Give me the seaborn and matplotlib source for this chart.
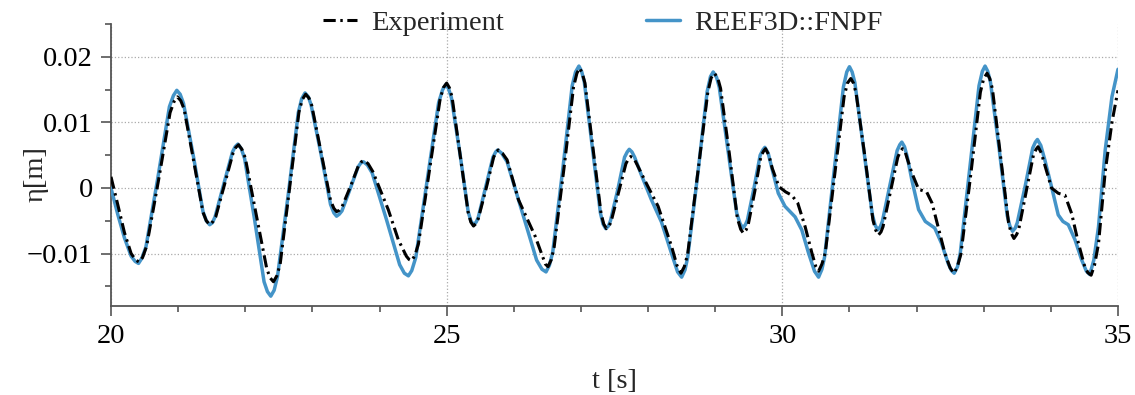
import numpy as np
import pandas as pd
import matplotlib

matplotlib.use('Agg')
import matplotlib.pyplot as plt
import seaborn as sns
from matplotlib.ticker import MultipleLocator, FuncFormatter

# 实验数据 (t [s], eta [m])
exp_points = [
    (20.00, 0.0017), (20.10, -0.0025), (20.20, -0.0068), (20.30, -0.0100), (20.37, -0.0110),
    (20.42, -0.0113), (20.47, -0.0106), (20.53, -0.0089), (20.71, 0.0013), (20.88, 0.0115),
    (20.94, 0.0132), (20.99, 0.0139), (21.04, 0.0133), (21.09, 0.0120), (21.23, 0.0042),
    (21.37, -0.0037), (21.42, -0.0050), (21.47, -0.0056), (21.52, -0.0051), (21.56, -0.0044),
    (21.69, 0.0005), (21.82, 0.0054), (21.86, 0.0062), (21.90, 0.0066), (21.95, 0.0059),
    (22.00, 0.0046), (22.16, -0.0039), (22.32, -0.0123), (22.37, -0.0137), (22.42, -0.0143),
    (22.47, -0.0134), (22.52, -0.0116), (22.66, 0.0000), (22.80, 0.0116), (22.85, 0.0135),
    (22.90, 0.0143), (22.95, 0.0137), (22.99, 0.0126), (23.13, 0.0054), (23.27, -0.0019),
    (23.32, -0.0031), (23.36, -0.0036), (23.40, -0.0034), (23.44, -0.0029), (23.57, 0.0003),
    (23.69, 0.0035), (23.73, 0.0040), (23.77, 0.0042), (23.83, 0.0037), (23.90, 0.0025),
    (24.13, -0.0033), (24.28, -0.0079), (24.40, -0.0104), (24.44, -0.0109), (24.48, -0.0111),
    (24.53, -0.0102), (24.58, -0.0085), (24.74, 0.0025), (24.90, 0.0134), (24.95, 0.0153),
    (25.00, 0.0160), (25.04, 0.0153), (25.08, 0.0139), (25.20, 0.0051), (25.32, -0.0037),
    (25.36, -0.0052), (25.40, -0.0058), (25.44, -0.0054), (25.47, -0.0047), (25.59, 0.0000),
    (25.70, 0.0047), (25.74, 0.0055), (25.77, 0.0058), (25.83, 0.0053), (25.90, 0.0043),
    (26.07, -0.0018), (26.32, -0.0074), (26.43, -0.0105), (26.47, -0.0116), (26.51, -0.0120),
    (26.56, -0.0109), (26.60, -0.0091), (26.75, 0.0032), (26.89, 0.0154), (26.94, 0.0175),
    (26.98, 0.0183), (27.02, 0.0175), (27.06, 0.0160), (27.18, 0.0061), (27.30, -0.0039),
    (27.34, -0.0055), (27.38, -0.0062), (27.42, -0.0058), (27.45, -0.0051), (27.56, -0.0007),
    (27.67, 0.0037), (27.71, 0.0045), (27.74, 0.0048), (27.79, 0.0045), (27.84, 0.0035),
    (27.95, 0.0012), (28.15, -0.0028), (28.35, -0.0089), (28.43, -0.0118), (28.49, -0.0130),
    (28.54, -0.0120), (28.59, -0.0101), (28.74, 0.0023), (28.89, 0.0146), (28.94, 0.0168),
    (28.99, 0.0175), (29.04, 0.0167), (29.08, 0.0152), (29.21, 0.0053), (29.33, -0.0046),
    (29.38, -0.0063), (29.42, -0.0069), (29.46, -0.0064), (29.49, -0.0057), (29.59, -0.0005),
    (29.68, 0.0048), (29.72, 0.0056), (29.75, 0.0060), (29.80, 0.0050), (29.85, 0.0030),
    (29.95, 0.0002), (30.05, -0.0006), (30.14, -0.0011), (30.23, -0.0023), (30.34, -0.0059),
    (30.44, -0.0099), (30.50, -0.0120), (30.54, -0.0127), (30.59, -0.0116), (30.64, -0.0099),
    (30.78, 0.0020), (30.92, 0.0139), (30.97, 0.0160), (31.02, 0.0167), (31.06, 0.0160),
    (31.10, 0.0144), (31.23, 0.0048), (31.35, -0.0049), (31.39, -0.0064), (31.43, -0.0072),
    (31.47, -0.0067), (31.50, -0.0059), (31.61, -0.0006), (31.72, 0.0047), (31.76, 0.0056),
    (31.79, 0.0060), (31.83, 0.0055), (31.86, 0.0045), (31.93, 0.0023), (32.03, -0.0002),
    (32.15, -0.0006), (32.23, -0.0023), (32.32, -0.0059), (32.42, -0.0099), (32.50, -0.0122),
    (32.56, -0.0130), (32.61, -0.0119), (32.66, -0.0101), (32.81, 0.0023), (32.95, 0.0146),
    (33.00, 0.0167), (33.05, 0.0175), (33.09, 0.0167), (33.13, 0.0151), (33.25, 0.0049),
    (33.37, -0.0053), (33.41, -0.0069), (33.45, -0.0077), (33.49, -0.0071), (33.52, -0.0064),
    (33.63, -0.0007), (33.74, 0.0050), (33.78, 0.0059), (33.81, 0.0063), (33.86, 0.0053),
    (33.91, 0.0035), (34.01, 0.0000), (34.11, -0.0008), (34.21, -0.0011), (34.31, -0.0039),
    (34.41, -0.0084), (34.50, -0.0118), (34.55, -0.0129), (34.60, -0.0133), (34.65, -0.0118),
    (34.71, -0.0085), (34.81, 0.0025), (34.91, 0.0100), (35.00, 0.0149),
]

# REEF3D::FNPF 数值结果
num_points = [
    (20.00, 0.0000), (20.10, -0.0040), (20.20, -0.0076), (20.30, -0.0104), (20.36, -0.0112),
    (20.41, -0.0115), (20.46, -0.0107), (20.52, -0.0090), (20.70, 0.0017), (20.87, 0.0124),
    (20.93, 0.0141), (20.98, 0.0149), (21.03, 0.0143), (21.08, 0.0129), (21.23, 0.0047),
    (21.37, -0.0036), (21.42, -0.0050), (21.47, -0.0056), (21.51, -0.0053), (21.55, -0.0044),
    (21.68, 0.0006), (21.81, 0.0055), (21.85, 0.0063), (21.89, 0.0067), (21.94, 0.0060),
    (21.99, 0.0045), (22.14, -0.0049), (22.28, -0.0143), (22.33, -0.0158), (22.38, -0.0165),
    (22.43, -0.0156), (22.48, -0.0135), (22.64, -0.0010), (22.79, 0.0115), (22.84, 0.0136),
    (22.89, 0.0145), (22.94, 0.0139), (22.98, 0.0127), (23.13, 0.0051), (23.27, -0.0025),
    (23.32, -0.0038), (23.36, -0.0043), (23.40, -0.0040), (23.44, -0.0035), (23.56, -0.0002),
    (23.68, 0.0032), (23.72, 0.0038), (23.76, 0.0040), (23.82, 0.0035), (23.89, 0.0023),
    (24.10, -0.0047), (24.30, -0.0117), (24.37, -0.0130), (24.43, -0.0134), (24.48, -0.0126),
    (24.54, -0.0106), (24.71, 0.0012), (24.88, 0.0130), (24.94, 0.0150), (24.99, 0.0158),
    (25.03, 0.0151), (25.07, 0.0138), (25.20, 0.0051), (25.32, -0.0036), (25.36, -0.0050),
    (25.40, -0.0056), (25.44, -0.0052), (25.47, -0.0045), (25.58, 0.0001), (25.69, 0.0047),
    (25.73, 0.0055), (25.76, 0.0058), (25.82, 0.0053), (25.90, 0.0040), (26.12, -0.0035),
    (26.34, -0.0110), (26.42, -0.0124), (26.48, -0.0128), (26.53, -0.0118), (26.58, -0.0098),
    (26.73, 0.0029), (26.87, 0.0156), (26.92, 0.0177), (26.97, 0.0186), (27.01, 0.0178),
    (27.05, 0.0162), (27.17, 0.0062), (27.29, -0.0038), (27.33, -0.0055), (27.37, -0.0062),
    (27.41, -0.0058), (27.44, -0.0050), (27.55, -0.0002), (27.65, 0.0047), (27.69, 0.0055),
    (27.72, 0.0059), (27.76, 0.0055), (27.80, 0.0047), (27.90, 0.0020), (28.05, -0.0018),
    (28.20, -0.0052), (28.35, -0.0100), (28.44, -0.0128), (28.50, -0.0136), (28.55, -0.0125),
    (28.59, -0.0106), (28.74, 0.0021), (28.88, 0.0147), (28.93, 0.0170), (28.97, 0.0177),
    (29.02, 0.0169), (29.06, 0.0154), (29.19, 0.0058), (29.32, -0.0038), (29.37, -0.0054),
    (29.41, -0.0061), (29.45, -0.0056), (29.48, -0.0049), (29.58, 0.0001), (29.67, 0.0050),
    (29.71, 0.0058), (29.74, 0.0062), (29.79, 0.0053), (29.84, 0.0032), (29.94, -0.0008),
    (30.04, -0.0028), (30.19, -0.0044), (30.29, -0.0064), (30.39, -0.0099), (30.48, -0.0127),
    (30.54, -0.0136), (30.59, -0.0124), (30.63, -0.0105), (30.77, 0.0025), (30.91, 0.0154),
    (30.96, 0.0177), (31.00, 0.0185), (31.04, 0.0177), (31.08, 0.0161), (31.21, 0.0061),
    (31.34, -0.0040), (31.38, -0.0056), (31.42, -0.0064), (31.46, -0.0059), (31.49, -0.0051),
    (31.60, 0.0003), (31.71, 0.0057), (31.75, 0.0066), (31.78, 0.0070), (31.82, 0.0063),
    (31.86, 0.0048), (31.93, 0.0012), (32.03, -0.0033), (32.13, -0.0051), (32.27, -0.0061),
    (32.37, -0.0084), (32.47, -0.0115), (32.52, -0.0126), (32.56, -0.0130), (32.61, -0.0120),
    (32.65, -0.0100), (32.79, 0.0028), (32.93, 0.0156), (32.98, 0.0178), (33.02, 0.0186),
    (33.06, 0.0178), (33.10, 0.0162), (33.23, 0.0060), (33.35, -0.0042), (33.39, -0.0058),
    (33.43, -0.0066), (33.47, -0.0061), (33.50, -0.0053), (33.62, 0.0004), (33.73, 0.0061),
    (33.77, 0.0070), (33.80, 0.0074), (33.85, 0.0065), (33.91, 0.0043), (34.01, 0.0002),
    (34.11, -0.0041), (34.18, -0.0051), (34.26, -0.0056), (34.36, -0.0079), (34.46, -0.0110),
    (34.53, -0.0127), (34.58, -0.0132), (34.64, -0.0110), (34.71, -0.0059), (34.81, 0.0058),
    (34.91, 0.0139), (35.00, 0.0181),
]

t_exp, eta_exp = map(list, zip(*exp_points))
t_num, eta_num = map(list, zip(*num_points))

sns.set_theme(style='ticks')
plt.rcParams['font.family'] = ['Liberation Serif', 'DejaVu Serif']
plt.rcParams['axes.unicode_minus'] = True

fig = plt.figure(figsize=(11.35, 3.95), dpi=100)
ax = fig.add_axes([0.0978, 0.2253, 0.8872, 0.7137])

spine_c = '#555555'
blue = '#4494c8'

sns.lineplot(x=t_exp, y=eta_exp, ax=ax, color='black', linewidth=2.2,
             label='Experiment', sort=False, zorder=4)
ax.lines[-1].set_dashes([4, 1.5, 0.8, 1.5])
sns.lineplot(x=t_num, y=eta_num, ax=ax, color=blue, linewidth=2.5,
             label='REEF3D::FNPF', sort=False, zorder=3)

ax.set_xlim(20, 35)
ax.set_ylim(-0.018, 0.025)
ax.xaxis.set_major_locator(MultipleLocator(5))
ax.xaxis.set_minor_locator(MultipleLocator(1))
ax.yaxis.set_major_locator(MultipleLocator(0.01))
ax.yaxis.set_minor_locator(MultipleLocator(0.005))
ax.yaxis.set_major_formatter(FuncFormatter(
    lambda v, _: '0' if abs(v) < 1e-9 else f'{v:.2f}'.replace('-', '\u2212')))
ax.xaxis.set_major_formatter(FuncFormatter(lambda v, _: f'{v:.0f}'))

ax.grid(True, which='major', linestyle=':', color='#aaaaaa', linewidth=0.9)
for s in ['top', 'right']:
    ax.spines[s].set_visible(False)
for s in ['left', 'bottom']:
    ax.spines[s].set_color(spine_c)
    ax.spines[s].set_linewidth(1.3)

ax.tick_params(which='major', direction='out', length=7, width=1.2, color=spine_c,
               labelsize=20.5, labelcolor='black', pad=6)
ax.tick_params(which='minor', direction='out', length=4.5, width=1.2, color=spine_c)

ax.set_xlabel('t [s]', fontsize=20.5, labelpad=14)
ax.set_ylabel('η[m]', fontsize=20.5)
ax.yaxis.set_label_coords(-0.062, 0.47)

ax.legend(loc='center', bbox_to_anchor=(0.531, 0.942), bbox_transform=fig.transFigure,
          ncol=2, frameon=False, fontsize=20.5, handlelength=1.2, handletextpad=0.5,
          columnspacing=5.0)

fig.savefig('out.png', dpi=100)
plt.close(fig)
